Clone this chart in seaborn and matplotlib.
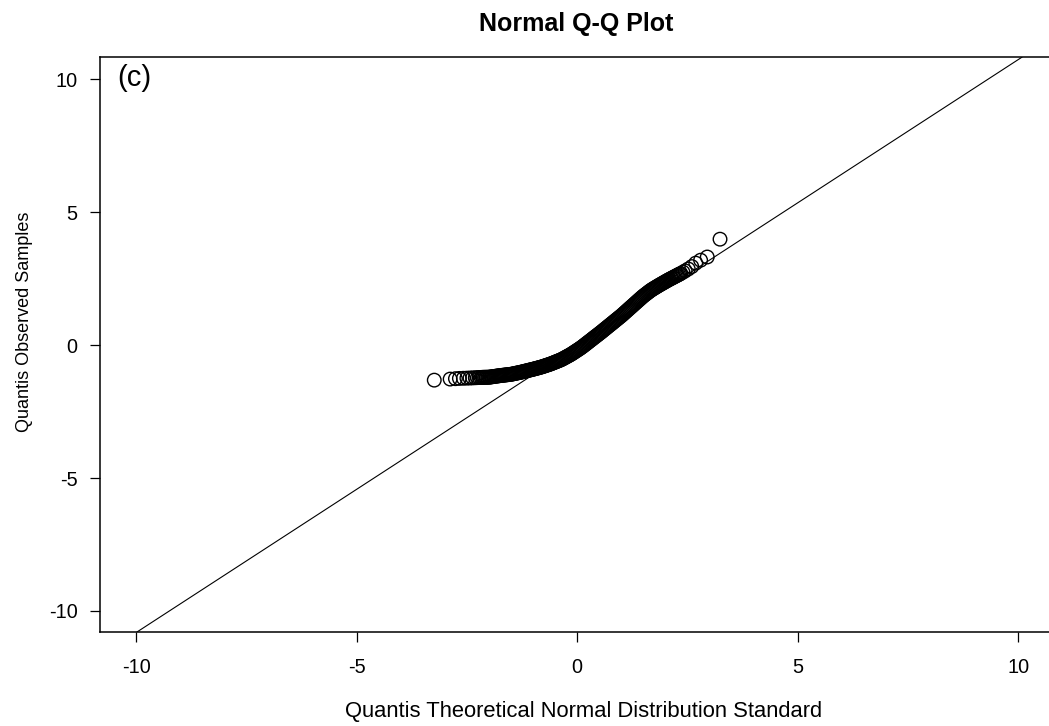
import matplotlib
matplotlib.use("Agg")
import matplotlib.pyplot as plt
import seaborn as sns
import pandas as pd

# ---- data ----
lower_tail_theoretical = [-3.24, -2.88, -2.76, -2.67, -2.58, -2.50, -2.43, -2.37, -2.31, -2.26, -2.22, -2.18]
lower_tail_observed = [-1.32, -1.28, -1.265, -1.255, -1.25, -1.245, -1.24, -1.235, -1.23, -1.225, -1.22, -1.218]

body_theoretical = [
    -2.150, -2.125, -2.100, -2.075, -2.050, -2.025, -2.000, -1.975, -1.950, -1.925,
    -1.900, -1.875, -1.850, -1.825, -1.800, -1.775, -1.750, -1.725, -1.700, -1.675,
    -1.650, -1.625, -1.600, -1.575, -1.550, -1.525, -1.500, -1.475, -1.450, -1.425,
    -1.400, -1.375, -1.350, -1.325, -1.300, -1.275, -1.250, -1.225, -1.200, -1.175,
    -1.150, -1.125, -1.100, -1.075, -1.050, -1.025, -1.000, -0.975, -0.950, -0.925,
    -0.900, -0.875, -0.850, -0.825, -0.800, -0.775, -0.750, -0.725, -0.700, -0.675,
    -0.650, -0.625, -0.600, -0.575, -0.550, -0.525, -0.500, -0.475, -0.450, -0.425,
    -0.400, -0.375, -0.350, -0.325, -0.300, -0.275, -0.250, -0.225, -0.200, -0.175,
    -0.150, -0.125, -0.100, -0.075, -0.050, -0.025, 0.000, 0.025, 0.050, 0.075,
    0.100, 0.125, 0.150, 0.175, 0.200, 0.225, 0.250, 0.275, 0.300, 0.325,
    0.350, 0.375, 0.400, 0.425, 0.450, 0.475, 0.500, 0.525, 0.550, 0.575,
    0.600, 0.625, 0.650, 0.675, 0.700, 0.725, 0.750, 0.775, 0.800, 0.825,
    0.850, 0.875, 0.900, 0.925, 0.950, 0.975, 1.000, 1.025, 1.050, 1.075,
    1.100, 1.125, 1.150, 1.175, 1.200, 1.225, 1.250, 1.275, 1.300, 1.325,
    1.350, 1.375, 1.400, 1.425, 1.450, 1.475, 1.500, 1.525, 1.550, 1.575,
    1.600, 1.625, 1.650, 1.675, 1.700, 1.725, 1.750, 1.775, 1.800, 1.825,
    1.850, 1.875, 1.900, 1.925, 1.950, 1.975, 2.000, 2.025, 2.050, 2.075,
    2.100, 2.125, 2.150, 2.175, 2.200, 2.225, 2.250, 2.275, 2.300, 2.325,
    2.350,
]
body_observed = [
    -1.215, -1.214, -1.213, -1.2125, -1.212, -1.211, -1.210, -1.204, -1.198, -1.192,
    -1.186, -1.180, -1.174, -1.168, -1.162, -1.156, -1.150, -1.145, -1.140, -1.135,
    -1.130, -1.125, -1.120, -1.115, -1.110, -1.105, -1.100, -1.092, -1.083, -1.074,
    -1.065, -1.057, -1.048, -1.039, -1.030, -1.021, -1.012, -1.001, -0.990, -0.981,
    -0.971, -0.961, -0.950, -0.940, -0.930, -0.920, -0.910, -0.899, -0.888, -0.877,
    -0.866, -0.855, -0.843, -0.832, -0.820, -0.807, -0.793, -0.779, -0.765, -0.752,
    -0.738, -0.724, -0.710, -0.694, -0.677, -0.660, -0.643, -0.627, -0.610, -0.594,
    -0.577, -0.559, -0.541, -0.519, -0.496, -0.473, -0.450, -0.428, -0.405, -0.383,
    -0.360, -0.334, -0.307, -0.280, -0.252, -0.225, -0.198, -0.171, -0.143, -0.115,
    -0.087, -0.055, -0.023, 0.009, 0.041, 0.074, 0.106, 0.138, 0.170, 0.203,
    0.235, 0.268, 0.300, 0.332, 0.364, 0.396, 0.428, 0.461, 0.493, 0.527,
    0.561, 0.595, 0.628, 0.662, 0.696, 0.730, 0.763, 0.797, 0.830, 0.864,
    0.898, 0.932, 0.965, 0.999, 1.033, 1.067, 1.100, 1.137, 1.174, 1.211,
    1.248, 1.285, 1.322, 1.360, 1.397, 1.434, 1.470, 1.508, 1.545, 1.582,
    1.619, 1.656, 1.693, 1.730, 1.767, 1.804, 1.840, 1.872, 1.904, 1.936,
    1.968, 2.000, 2.032, 2.061, 2.090, 2.115, 2.140, 2.165, 2.190, 2.215,
    2.240, 2.264, 2.288, 2.312, 2.335, 2.359, 2.383, 2.407, 2.430, 2.453,
    2.475, 2.497, 2.518, 2.540, 2.562, 2.584, 2.605, 2.627, 2.648, 2.670,
    2.692,
]

upper_tail_theoretical = [2.40, 2.45, 2.52, 2.60, 2.69, 2.80, 2.95, 3.24]
upper_tail_observed = [2.74, 2.79, 2.86, 2.95, 3.08, 3.19, 3.31, 3.98]

qqline_intercept = -0.04
qqline_slope = 1.077
x_ticks = [-10, -5, 0, 5, 10]
y_ticks = [-10, -5, 0, 5, 10]

title = "Normal Q-Q Plot"
x_label = "Quantis Theoretical Normal Distribution Standard"
y_label = "Quantis Observed Samples"
panel_tag = "(c)"

df = pd.DataFrame({
    "theoretical": lower_tail_theoretical + body_theoretical + upper_tail_theoretical,
    "observed": lower_tail_observed + body_observed + upper_tail_observed,
})

sns.set_theme(style="ticks")
plt.rcParams["font.family"] = ["Liberation Sans", "DejaVu Sans"]

fig = plt.figure(figsize=(10.49, 7.26), dpi=100)
ax = fig.add_axes([100 / 1049, 1 - 632 / 726, 1 - 100 / 1049, (632 - 57) / 726])

sns.scatterplot(data=df, x="theoretical", y="observed", ax=ax, marker="o", s=95,
                facecolor="none", edgecolor="black", linewidth=1.0, zorder=3)
ax.axline((0, qqline_intercept), slope=qqline_slope, color="black", linewidth=0.8, zorder=2)

ax.set_xlim(-10.82, 10.70)
ax.set_ylim(-10.79, 10.83)
ax.set_xticks(x_ticks)
ax.set_yticks(y_ticks)
ax.set_xticklabels([str(v) for v in x_ticks])
ax.set_yticklabels([str(v) for v in y_ticks])
ax.tick_params(axis="both", direction="out", length=7.2, width=0.9, colors="black",
               labelsize=14.3)
ax.tick_params(axis="x", pad=11.5)
ax.tick_params(axis="y", pad=9)

for side in ["left", "bottom", "top"]:
    ax.spines[side].set_visible(True)
    ax.spines[side].set_color("black")
    ax.spines[side].set_linewidth(1.1)
ax.spines["right"].set_visible(False)

ax.set_xlabel(x_label, fontsize=15.8, color="black")
ax.set_ylabel(y_label, fontsize=13.0, color="black")
ax.xaxis.set_label_coords(0.51, -0.12)
ax.yaxis.set_label_coords(-0.0706, 0.539)

ax.text(0.018, 0.963, panel_tag, transform=ax.transAxes, fontsize=21,
        ha="left", va="center", color="black")

fig.text(576 / 1049, 1 - 24 / 726, title, ha="center", va="center",
         fontsize=18, fontweight="bold", color="black")

fig.savefig("out.png", dpi=100)
